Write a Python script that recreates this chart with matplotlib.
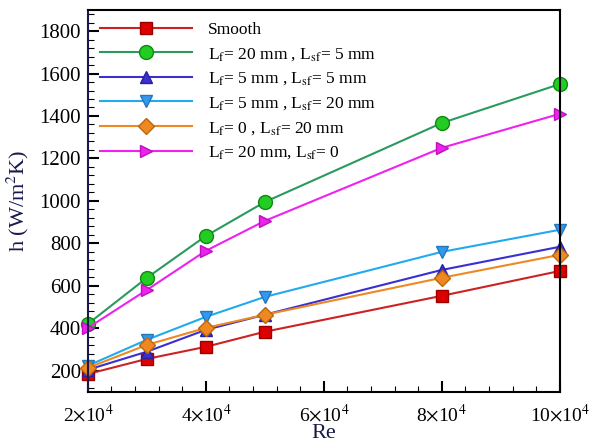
import numpy as np
import matplotlib.pyplot as plt
from matplotlib.ticker import MultipleLocator, FuncFormatter

plt.rcParams['font.family'] = ['Liberation Serif', 'DejaVu Serif']
plt.rcParams['mathtext.fontset'] = 'stix'

re = [2e4, 3e4, 4e4, 5e4, 8e4, 10e4]
smooth = [185, 256, 313, 384, 553, 670]
lf20_lsf5 = [421, 638, 835, 995, 1367, 1550]
lf5_lsf5 = [205, 290, 393, 464, 675, 784]
lf5_lsf20 = [224, 346, 454, 548, 760, 864]
lf0_lsf20 = [214, 322, 402, 464, 638, 746]
lf20_lsf0 = [402, 581, 765, 906, 1250, 1410]

labels = ["Smooth",
          r"L$_\mathrm{f}$= 20 mm , L$_\mathrm{sf}$= 5 mm",
          r"L$_\mathrm{f}$= 5 mm , L$_\mathrm{sf}$= 5 mm",
          r"L$_\mathrm{f}$= 5 mm , L$_\mathrm{sf}$= 20 mm",
          r"L$_\mathrm{f}$= 0 , L$_\mathrm{sf}$= 20 mm",
          r"L$_\mathrm{f}$= 20 mm, L$_\mathrm{sf}$= 0"]

series = [smooth, lf20_lsf5, lf5_lsf5, lf5_lsf20, lf0_lsf20, lf20_lsf0]
styles = [("#cc2222", "s", "#dd0000", "#990000", 8),
          ("#2a9a5e", "o", "#22cc22", "#118811", 10),
          ("#3a2fd0", "^", "#3a2fd0", "#2a1fa0", 9),
          ("#22aaee", "v", "#3399ee", "#2277bb", 9),
          ("#ee8822", "D", "#ee8822", "#bb6611", 8),
          ("#ee22ee", ">", "#ee22ee", "#bb11bb", 9)]

fig = plt.figure(figsize=(5.98, 4.46), dpi=100)
ax = fig.add_axes([0.147, 0.121, 0.789, 0.857])

for y, lab, (lc, m, fc, ec, ms) in zip(series, labels, styles):
    ax.plot(re, y, color=lc, lw=1.5, marker=m, markersize=ms,
            markerfacecolor=fc, markeredgecolor=ec, label=lab, clip_on=False)

ax.set_xlim(2e4, 10e4)
ax.set_ylim(100, 1900)
ax.xaxis.set_major_locator(MultipleLocator(2e4))
ax.xaxis.set_minor_locator(MultipleLocator(4e3))
ax.yaxis.set_major_locator(MultipleLocator(200))
ax.yaxis.set_minor_locator(MultipleLocator(40))
ax.xaxis.set_major_formatter(FuncFormatter(lambda v, p: r"%d$\times$10$^4$" % round(v / 1e4)))
ax.yaxis.set_major_formatter(FuncFormatter(lambda v, p: "%d" % v if v >= 200 and v <= 1800 else ""))

ax.tick_params(which='both', direction='in', top=False, right=False)
ax.tick_params(axis='y', labelsize=15, pad=5)
ax.tick_params(axis='x', labelsize=14, pad=8)
ax.tick_params(which='major', length=8, width=1.5)
ax.tick_params(which='minor', length=4, width=0.8)
for s in ax.spines.values():
    s.set_linewidth(1.5)
ax.spines['left'].set_color('#1a1a4a')

ax.set_xlabel("Re", fontsize=16, color='#1a1a4a', labelpad=-1)
ax.set_ylabel(r"h (W/m$^2$K)", fontsize=16, color='#1a1a4a', labelpad=6)

ax.legend(loc='upper left', frameon=False, fontsize=12.5, handlelength=5.3,
          labelspacing=0.45, borderaxespad=0.3, handletextpad=0.9)

fig.savefig("out.png", dpi=100)
